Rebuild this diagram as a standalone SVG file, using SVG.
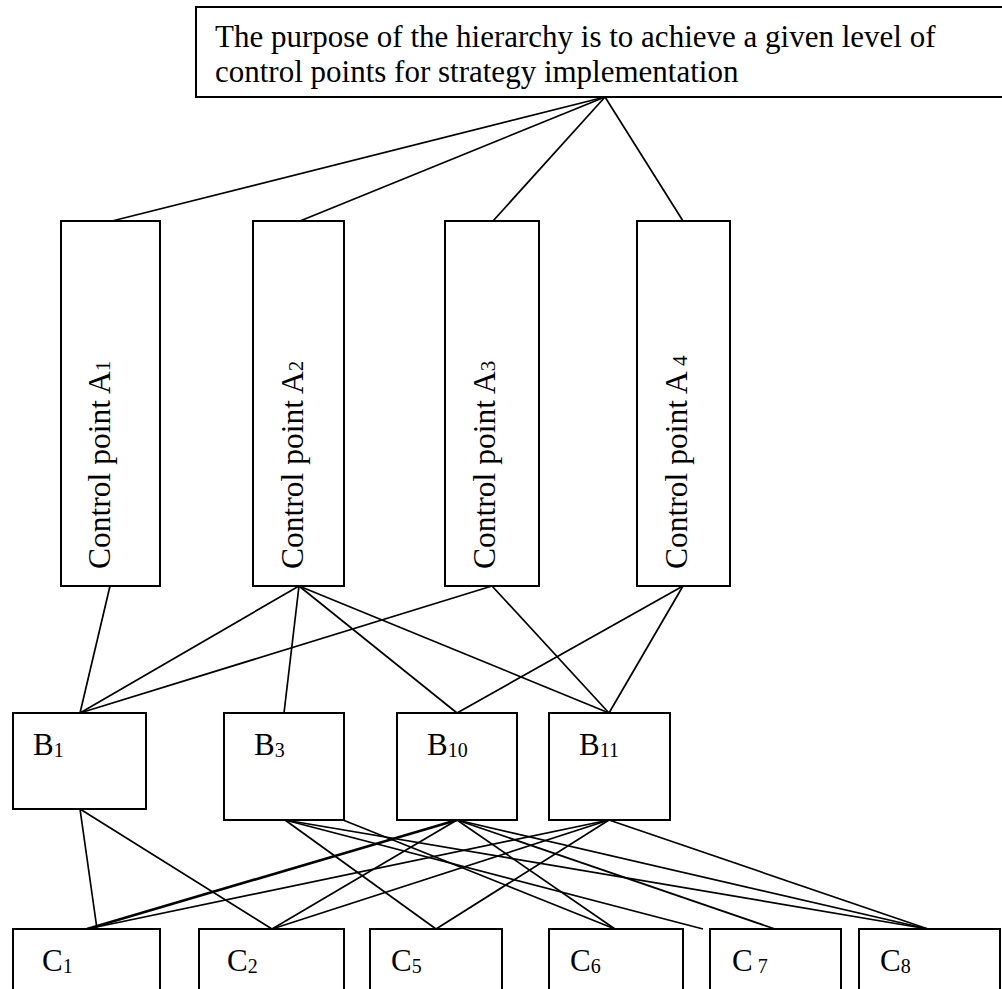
<svg xmlns="http://www.w3.org/2000/svg" width="1002" height="989" viewBox="0 0 1002 989">
<style>
.box{fill:#fff;stroke:#000;stroke-width:2}
.ln{stroke:#000;stroke-width:1.7;fill:none}
text{font-family:"Liberation Serif","Times New Roman",serif;fill:#000}
.t{font-size:31px}
.v{font-size:31.5px}
.sub{font-size:20px}
.vsub{font-size:21px}
</style>
<rect width="1002" height="989" fill="#fff"/>
<g id="connectors" class="ln">
<line x1="605" y1="97" x2="112" y2="221"/>
<line x1="605" y1="97" x2="300" y2="221"/>
<line x1="605" y1="97" x2="493" y2="221"/>
<line x1="605" y1="97" x2="683" y2="221"/>
<line x1="110" y1="586" x2="80" y2="713"/>
<line x1="299" y1="586" x2="80" y2="713"/>
<line x1="299" y1="586" x2="284" y2="713"/>
<line x1="299" y1="586" x2="457" y2="713"/>
<line x1="299" y1="586" x2="609" y2="713"/>
<line x1="492" y1="586" x2="80" y2="713"/>
<line x1="492" y1="586" x2="609" y2="713"/>
<line x1="683" y1="586" x2="457" y2="713"/>
<line x1="683" y1="586" x2="609" y2="713"/>
<line x1="80" y1="809" x2="97" y2="929"/>
<line x1="80" y1="809" x2="272" y2="929"/>
<line x1="285" y1="820" x2="436" y2="929"/>
<line x1="285" y1="820" x2="703" y2="929"/>
<line x1="285" y1="820" x2="928" y2="929"/>
<line x1="343" y1="820" x2="615" y2="929"/>
<line x1="457" y1="820" x2="87" y2="929" stroke-width="2.6"/>
<line x1="457" y1="820" x2="272" y2="929"/>
<line x1="457" y1="820" x2="615" y2="929"/>
<line x1="457" y1="820" x2="775" y2="929"/>
<line x1="457" y1="820" x2="928" y2="929"/>
<line x1="609" y1="820" x2="87" y2="929"/>
<line x1="609" y1="820" x2="272" y2="929"/>
<line x1="609" y1="820" x2="436" y2="929"/>
<line x1="609" y1="820" x2="928" y2="929"/>
</g>
<g id="purpose">
<rect class="box" x="196" y="7" width="830" height="90"/>
<text class="t" x="215" y="47">The purpose of the hierarchy is to achieve a given level of</text>
<text class="t" x="215" y="82">control points for strategy implementation</text>
</g>
<g id="A1">
<rect class="box" x="61" y="221" width="99" height="365"/>
<text class="v" transform="translate(110,569) rotate(-90)">Control point A<tspan class="vsub">1</tspan></text>
</g>
<g id="A2">
<rect class="box" x="253" y="221" width="91" height="365"/>
<text class="v" transform="translate(303,569) rotate(-90)">Control point A<tspan class="vsub">2</tspan></text>
</g>
<g id="A3">
<rect class="box" x="445" y="221" width="94" height="365"/>
<text class="v" transform="translate(495,569) rotate(-90)">Control point A<tspan class="vsub">3</tspan></text>
</g>
<g id="A4">
<rect class="box" x="637" y="221" width="93" height="365"/>
<text class="v" transform="translate(687,569) rotate(-90)">Control point A<tspan class="vsub"> 4</tspan></text>
</g>
<g id="B1">
<rect class="box" x="13" y="713" width="133" height="96"/>
<text class="t" x="33" y="755">B<tspan class="sub" dy="2">1</tspan></text>
</g>
<g id="B3">
<rect class="box" x="224" y="713" width="120" height="107"/>
<text class="t" x="254" y="755">B<tspan class="sub" dy="2">3</tspan></text>
</g>
<g id="B10">
<rect class="box" x="397" y="713" width="120" height="107"/>
<text class="t" x="427" y="755">B<tspan class="sub" dy="2">10</tspan></text>
</g>
<g id="B11">
<rect class="box" x="549" y="713" width="121" height="107"/>
<text class="t" x="579" y="755">B<tspan class="sub" dy="2">11</tspan></text>
</g>
<g id="C1">
<rect class="box" x="13" y="929" width="147" height="80"/>
<text class="t" x="42" y="971">C<tspan class="sub" dy="2">1</tspan></text>
</g>
<g id="C2">
<rect class="box" x="199" y="929" width="145" height="80"/>
<text class="t" x="227" y="971">C<tspan class="sub" dy="2">2</tspan></text>
</g>
<g id="C5">
<rect class="box" x="370" y="929" width="132" height="80"/>
<text class="t" x="391" y="971">C<tspan class="sub" dy="2">5</tspan></text>
</g>
<g id="C6">
<rect class="box" x="549" y="929" width="134" height="80"/>
<text class="t" x="570" y="971">C<tspan class="sub" dy="2">6</tspan></text>
</g>
<g id="C7">
<rect class="box" x="710" y="929" width="131" height="80"/>
<text class="t" x="732" y="971">C<tspan class="sub" dy="2"> 7</tspan></text>
</g>
<g id="C8">
<rect class="box" x="859" y="929" width="141" height="80"/>
<text class="t" x="880" y="971">C<tspan class="sub" dy="2">8</tspan></text>
</g>
</svg>
